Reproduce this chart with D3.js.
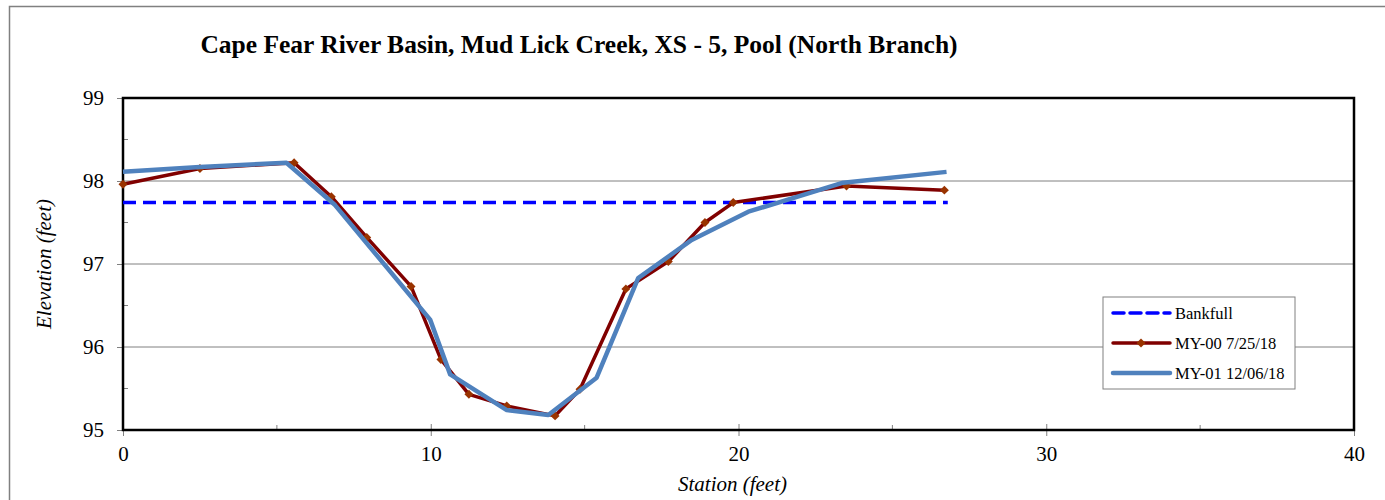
<!DOCTYPE html>
<html>
<head>
<meta charset="utf-8">
<script src="https://cdn.jsdelivr.net/npm/d3@7"></script>
<style>
  body { margin: 0; background: #fff; }
  svg text { font-family: "Liberation Serif", "Times New Roman", serif; fill: #000; }
</style>
</head>
<body>
<svg id="chart"></svg>
<script>
var chartTitle = 'Cape Fear River Basin, Mud Lick Creek, XS - 5, Pool (North Branch)';

var xTicks = [0, 10, 20, 30, 40];
var yTicks = [95, 96, 97, 98, 99];

var bankfullStation = [0, 26.8];
var bankfullElev = [97.74, 97.74];

var my00Station = [0, 2.5, 5.56, 6.77, 7.92, 9.36, 10.33, 11.24, 12.47, 14.04, 14.85, 16.34, 17.72, 18.91, 19.83, 23.51, 26.69];
var my00Elev = [97.96, 98.15, 98.22, 97.81, 97.32, 96.73, 95.85, 95.43, 95.29, 95.17, 95.49, 96.70, 97.03, 97.50, 97.74, 97.94, 97.89];

var my01Station = [0, 2.5, 5.31, 6.89, 9.98, 10.63, 12.47, 13.82, 15.39, 16.74, 18.48, 20.32, 23.40, 26.76];
var my01Elev = [98.11, 98.17, 98.22, 97.71, 96.33, 95.67, 95.24, 95.18, 95.63, 96.83, 97.29, 97.63, 97.98, 98.11];

var seriesNames = ['Bankfull', 'MY-00 7/25/18', 'MY-01 12/06/18'];

var width = 1385,
    height = 500,
    margin = { top: 98, left: 123, right: 31, bottom: 70 },
    innerWidth = width - margin.left - margin.right,
    innerHeight = height - margin.top - margin.bottom;

var svg = d3.select('#chart')
    .attr('width', width)
    .attr('height', height);

// outer frame
svg.append('path')
    .attr('d', 'M9.5,500 V6.5 H1385')
    .attr('fill', 'none')
    .attr('stroke', '#808080')
    .attr('stroke-width', 1.5);

svg.append('text')
    .attr('x', 579)
    .attr('y', 53)
    .style('text-anchor', 'middle')
    .style('font-size', '25.5px')
    .style('font-weight', 'bold')
    .text(chartTitle);

var chart = svg.append('g')
    .attr('transform', 'translate(' + margin.left + ', ' + margin.top + ')');

var x = d3.scaleLinear().domain([0, 40]).range([0, innerWidth]);
var y = d3.scaleLinear().domain([95, 99]).range([innerHeight, 0]);

// gridlines
chart.selectAll('.grid')
    .data(yTicks.filter(function (d) { return d > 95 && d < 99; }))
    .enter().append('line')
    .attr('class', 'grid')
    .attr('x1', 0)
    .attr('x2', innerWidth)
    .attr('y1', function (d) { return y(d); })
    .attr('y2', function (d) { return y(d); })
    .attr('stroke', '#808080')
    .attr('stroke-width', 1);

// minor ticks (inside)
var yMinor = [95.5, 96.5, 97.5, 98.5];
chart.selectAll('.yminor')
    .data(yMinor)
    .enter().append('line')
    .attr('x1', 0).attr('x2', 5)
    .attr('y1', function (d) { return y(d); })
    .attr('y2', function (d) { return y(d); })
    .attr('stroke', '#808080');

var xMinor = [5, 15, 25, 35];
chart.selectAll('.xminor')
    .data(xMinor)
    .enter().append('line')
    .attr('x1', function (d) { return x(d); })
    .attr('x2', function (d) { return x(d); })
    .attr('y1', innerHeight).attr('y2', innerHeight - 5)
    .attr('stroke', '#808080');

// axes
var xAxis = d3.axisBottom(x).tickValues(xTicks).tickFormat(d3.format('d')).tickSize(6).tickSizeOuter(0).tickPadding(10);
var yAxis = d3.axisLeft(y).tickValues(yTicks).tickFormat(d3.format('d')).tickSize(6).tickSizeOuter(0).tickPadding(13);

var gx = chart.append('g')
    .attr('transform', 'translate(0,' + innerHeight + ')')
    .call(xAxis)
    .attr('font-size', 21)
    .attr('font-family', null);
gx.select('.domain').remove();
gx.selectAll('.tick line').attr('y1', -6).attr('stroke', '#808080');

var gy = chart.append('g')
    .call(yAxis)
    .attr('font-size', 21)
    .attr('font-family', null);
gy.select('.domain').remove();
gy.selectAll('.tick line').attr('stroke', '#808080');

// plot frame
chart.append('rect')
    .attr('x', 0).attr('y', 0)
    .attr('width', innerWidth).attr('height', innerHeight)
    .attr('fill', 'none')
    .attr('stroke', '#000')
    .attr('stroke-width', 2.5);

var line = d3.line()
    .x(function (d) { return x(d[0]); })
    .y(function (d) { return y(d[1]); });

var bankfull = d3.zip(bankfullStation, bankfullElev);
var my00 = d3.zip(my00Station, my00Elev);
var my01 = d3.zip(my01Station, my01Elev);

chart.append('path')
    .datum(bankfull)
    .attr('d', line)
    .attr('fill', 'none')
    .attr('stroke', '#0000ff')
    .attr('stroke-width', 3.5)
    .attr('stroke-dasharray', '13,7');

chart.append('path')
    .datum(my00)
    .attr('d', line)
    .attr('fill', 'none')
    .attr('stroke', '#800000')
    .attr('stroke-width', 3.5)
    .attr('stroke-linejoin', 'round');

// square turned 45 degrees = Excel style diamond
var diamond = d3.symbol().type(d3.symbolSquare).size(40);
chart.selectAll('.pt')
    .data(my00)
    .enter().append('path')
    .attr('class', 'pt')
    .attr('d', diamond)
    .attr('transform', function (d) { return 'translate(' + x(d[0]) + ',' + y(d[1]) + ') rotate(45)'; })
    .attr('fill', '#993300');

chart.append('path')
    .datum(my01)
    .attr('d', line)
    .attr('fill', 'none')
    .attr('stroke', '#4f81bd')
    .attr('stroke-width', 4.5)
    .attr('stroke-linejoin', 'round');

// axis labels
svg.append('text')
    .attr('x', margin.left + innerWidth / 2 - 6)
    .attr('y', 491)
    .style('text-anchor', 'middle')
    .style('font-size', '21px')
    .style('font-style', 'italic')
    .text('Station (feet)');

svg.append('text')
    .attr('transform', 'translate(51,' + (margin.top + innerHeight / 2) + ') rotate(-90)')
    .style('text-anchor', 'middle')
    .style('font-size', '21px')
    .style('font-style', 'italic')
    .text('Elevation (feet)');

// legend
var legend = svg.append('g').attr('transform', 'translate(1103,297)');
legend.append('rect')
    .attr('width', 192).attr('height', 92)
    .attr('fill', '#fff')
    .attr('stroke', '#808080')
    .attr('stroke-width', 1);

var legendItems = legend.selectAll('.item')
    .data(seriesNames)
    .enter().append('g')
    .attr('transform', function (d, i) { return 'translate(0,' + (16 + i * 30) + ')'; });

legendItems.append('line')
    .attr('x1', 10).attr('x2', 67)
    .attr('stroke', function (d, i) { return ['#0000ff', '#800000', '#4f81bd'][i]; })
    .attr('stroke-width', function (d, i) { return [3.5, 3.5, 4.5][i]; })
    .attr('stroke-dasharray', function (d, i) { return i === 0 ? '11,6' : null; })
    .attr('stroke-linecap', 'round');

legendItems.filter(function (d, i) { return i === 1; })
    .append('path')
    .attr('d', diamond)
    .attr('transform', 'translate(38,0) rotate(45)')
    .attr('fill', '#993300');

legendItems.append('text')
    .attr('x', 72)
    .attr('dy', '0.35em')
    .style('font-size', '16.5px')
    .text(function (d) { return d; });
</script>
</body>
</html>
